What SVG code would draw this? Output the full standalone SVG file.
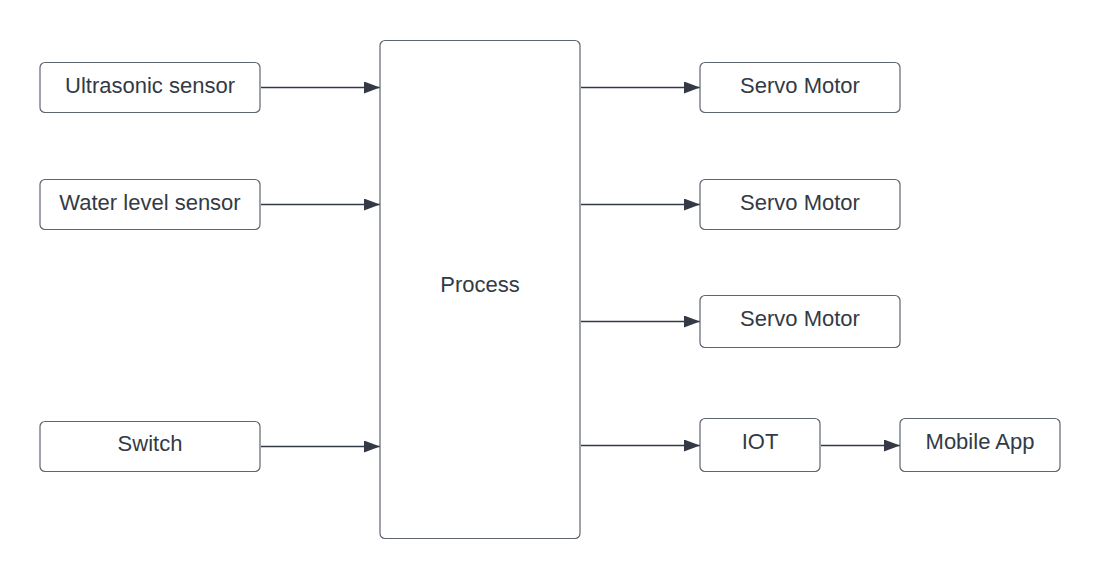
<svg xmlns="http://www.w3.org/2000/svg" width="1100" height="579" viewBox="0 0 1100 579">
<defs>
<style>
.box{fill:#ffffff;stroke:#5e6470;stroke-width:1.2}
.lbl{font-family:"Liberation Sans",Arial,sans-serif;font-size:22px;fill:#333a45;text-anchor:middle;dominant-baseline:central}
.con{stroke:#333a45;stroke-width:1.3;fill:none}
</style>
<marker id="arr" markerWidth="16" markerHeight="12" refX="16" refY="6" orient="auto" markerUnits="userSpaceOnUse">
<path d="M0,0 L16,6 L0,12 Z" fill="#333a45"/>
</marker>
</defs>
<rect width="1100" height="579" fill="#ffffff"/>
<g id="connectors">
<line class="con" x1="261" y1="87.5" x2="380" y2="87.5" marker-end="url(#arr)"/>
<line class="con" x1="261" y1="204.5" x2="380" y2="204.5" marker-end="url(#arr)"/>
<line class="con" x1="261" y1="446.5" x2="380" y2="446.5" marker-end="url(#arr)"/>
<line class="con" x1="581" y1="87.5" x2="700" y2="87.5" marker-end="url(#arr)"/>
<line class="con" x1="581" y1="204.5" x2="700" y2="204.5" marker-end="url(#arr)"/>
<line class="con" x1="581" y1="321.5" x2="700" y2="321.5" marker-end="url(#arr)"/>
<line class="con" x1="581" y1="445.5" x2="700" y2="445.5" marker-end="url(#arr)"/>
<line class="con" x1="821" y1="445.5" x2="900" y2="445.5" marker-end="url(#arr)"/>
</g>
<g id="ultrasonic"><rect class="box" x="40" y="62.5" width="220" height="50" rx="5"/><text class="lbl" x="150" y="85">Ultrasonic sensor</text></g>
<g id="waterlevel"><rect class="box" x="40" y="179.5" width="220" height="50" rx="5"/><text class="lbl" x="150" y="202">Water level sensor</text></g>
<g id="switch"><rect class="box" x="40" y="421.5" width="220" height="50" rx="5"/><text class="lbl" x="150" y="443">Switch</text></g>
<g id="process"><rect class="box" x="380" y="40.5" width="200" height="498" rx="5"/><text class="lbl" x="480" y="284">Process</text></g>
<g id="servo1"><rect class="box" x="700" y="62.5" width="200" height="50" rx="5"/><text class="lbl" x="800" y="85">Servo Motor</text></g>
<g id="servo2"><rect class="box" x="700" y="179.5" width="200" height="50" rx="5"/><text class="lbl" x="800" y="202">Servo Motor</text></g>
<g id="servo3"><rect class="box" x="700" y="295.5" width="200" height="52" rx="5"/><text class="lbl" x="800" y="318">Servo Motor</text></g>
<g id="iot"><rect class="box" x="700" y="418.5" width="120" height="53" rx="5"/><text class="lbl" x="760" y="441">IOT</text></g>
<g id="mobileapp"><rect class="box" x="900" y="418.5" width="160" height="53" rx="5"/><text class="lbl" x="980" y="441">Mobile App</text></g>
</svg>
